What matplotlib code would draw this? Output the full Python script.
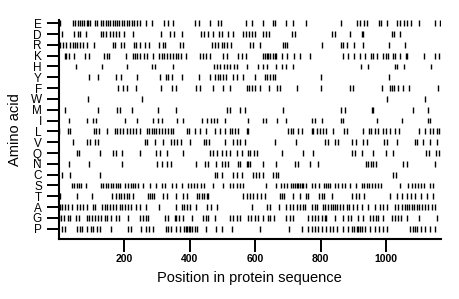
import numpy as np
import matplotlib
matplotlib.use("Agg")
import matplotlib.pyplot as plt

plt.rcParams['font.family'] = ['Liberation Sans', 'DejaVu Sans']

# amino acids, top to bottom as in the chart
amino = ['E', 'D', 'R', 'K', 'H', 'Y', 'F', 'W', 'M', 'I',
         'L', 'V', 'Q', 'N', 'C', 'S', 'T', 'A', 'G', 'P']

pos_E = [6, 44, 51, 58, 65, 71, 78, 86, 91, 96, 112, 117, 129, 136, 144, 151, 158, 165, 172, 179,
         186, 193, 201, 208, 215, 223, 231, 239, 248, 266, 286, 323, 335, 349, 416, 429, 461, 488,
         496, 571, 591, 625, 656, 662, 693, 717, 757, 861, 910, 919, 933, 942, 978, 986, 1002,
         1034, 1042, 1056, 1063, 1075, 1101, 1149, 1165]
pos_D = [12, 47, 58, 65, 83, 129, 136, 145, 157, 165, 177, 185, 200, 228, 313, 340, 352, 376,
         436, 444, 456, 472, 490, 500, 518, 533, 564, 572, 582, 592, 600, 625, 633, 643, 713, 723,
         834, 843, 890, 925, 929, 1017, 1023, 1044]
pos_R = [5, 14, 24, 35, 43, 50, 57, 65, 75, 88, 109, 165, 172, 190, 200, 230, 238, 250, 264, 277,
         307, 320, 326, 371, 379, 468, 477, 488, 498, 505, 515, 526, 585, 595, 615, 686, 692, 698,
         805, 861, 869, 880, 902, 930, 1010, 1058]
pos_K = [19, 24, 31, 47, 82, 92, 140, 147, 153, 206, 228, 234, 240, 248, 261, 269, 289, 307, 316,
         323, 330, 340, 348, 358, 365, 374, 389, 432, 440, 449, 464, 503, 513, 547, 559, 572, 623,
         630, 635, 641, 647, 654, 660, 664, 681, 698, 719, 737, 768, 869, 885, 902, 920, 936, 953,
         961, 971, 992, 999, 1007, 1020, 1027, 1042, 1060, 1065, 1116, 1149, 1163]
pos_H = [53, 134, 208, 284, 295, 348, 475, 483, 493, 505, 513, 523, 536, 546, 574, 610, 625, 635,
         664, 681, 694, 717, 923, 946, 1027, 1032, 1055, 1136]
pos_Y = [94, 122, 175, 190, 240, 309, 327, 333, 345, 376, 429, 464, 477, 486, 493, 501, 511, 533,
         546, 562, 600, 630, 637, 645, 654, 661, 800, 1009]
pos_F = [182, 197, 210, 236, 313, 347, 360, 421, 432, 472, 501, 523, 574, 582, 591, 601, 615, 643,
         666, 676, 729, 801, 890, 900, 988, 1012, 1017, 1024, 1035, 1051, 1069, 1160]
pos_W = [91, 256, 1004, 1119]
pos_M = [21, 122, 180, 187, 223, 303, 358, 513, 523, 554, 569, 686, 861, 874, 956, 961, 1081, 1128]
pos_I = [32, 86, 104, 114, 204, 241, 289, 304, 317, 363, 381, 438, 454, 467, 475, 485, 508, 579,
         625, 633, 666, 694, 773, 783, 803, 861, 869, 973, 1048, 1128, 1134]
pos_L = [2, 30, 35, 108, 113, 124, 147, 172, 180, 189, 197, 208, 218, 228, 238, 248, 271, 276, 284,
         291, 299, 307, 317, 325, 333, 342, 349, 393, 399, 416, 432, 450, 477, 493, 508, 523, 531,
         539, 549, 574, 579, 702, 709, 717, 732, 742, 773, 778, 788, 798, 808, 818, 839, 872, 882,
         930, 949, 954, 966, 976, 992, 1000, 1012, 1027, 1040, 1101, 1119, 1134, 1144, 1154, 1163]
pos_V = [43, 88, 96, 111, 122, 265, 271, 296, 320, 343, 353, 363, 374, 401, 444, 450, 460, 508,
         533, 546, 554, 569, 661, 725, 813, 824, 844, 854, 897, 907, 930, 943, 995, 1002, 1032,
         1088, 1093, 1112, 1134, 1154]
pos_Q = [55, 63, 126, 165, 175, 195, 250, 299, 309, 330, 379, 464, 472, 483, 498, 511, 523, 544,
         559, 579, 586, 597, 605, 681, 745, 778, 895, 905, 925, 961, 999, 1022, 1122, 1131, 1151,
         1163]
pos_N = [33, 92, 194, 301, 315, 330, 342, 421, 447, 457, 480, 500, 508, 518, 547, 554, 574, 579,
         584, 623, 664, 722, 732, 768, 793, 939, 946, 953, 959, 969, 1053, 1063, 1149]
pos_C = [10, 35, 126, 477, 485, 498, 533, 544, 559, 595, 603, 613, 625, 654, 663, 671, 1020, 1030]
pos_S = [40, 47, 55, 63, 70, 83, 129, 136, 145, 152, 160, 167, 174, 182, 187, 203, 213, 220, 228,
         235, 243, 259, 279, 297, 315, 325, 345, 360, 376, 396, 403, 413, 423, 434, 444, 472, 503,
         523, 533, 544, 554, 564, 632, 664, 678, 688, 698, 709, 717, 722, 727, 732, 737, 742, 747,
         757, 773, 783, 796, 810, 816, 823, 829, 844, 854, 864, 874, 890, 908, 925, 933, 941, 949,
         956, 966, 976, 986, 1042, 1068, 1078, 1088, 1098, 1108, 1116, 1134, 1144]
pos_T = [2, 6, 55, 103, 164, 177, 185, 192, 200, 208, 216, 226, 272, 279, 286, 291, 320, 330, 360,
         379, 393, 423, 430, 437, 444, 454, 457, 562, 574, 584, 595, 605, 617, 630, 676, 683, 688,
         717, 737, 755, 762, 796, 803, 810, 834, 895, 908, 918, 933, 1012, 1032, 1048, 1063, 1075,
         1088, 1106, 1124, 1144]
pos_A = [4, 12, 20, 30, 40, 55, 65, 75, 88, 104, 111, 133, 142, 149, 157, 167, 177, 187, 194, 203,
         213, 220, 238, 248, 266, 307, 360, 376, 383, 391, 401, 421, 452, 467, 483, 592, 635, 647,
         674, 694, 706, 717, 727, 737, 747, 752, 773, 783, 790, 808, 813, 824, 831, 837, 844, 851,
         859, 869, 880, 888, 900, 912, 925, 946, 966, 981, 992, 1002, 1027, 1037, 1048, 1058, 1065,
         1071, 1078, 1085, 1093, 1101, 1109, 1119, 1129, 1139, 1149]
pos_G = [2, 9, 17, 30, 35, 53, 63, 86, 94, 101, 111, 121, 131, 142, 149, 160, 177, 185, 213, 248,
         259, 266, 274, 325, 335, 355, 360, 369, 379, 406, 440, 450, 457, 477, 523, 533, 546, 554,
         579, 589, 600, 610, 625, 640, 647, 658, 696, 706, 715, 762, 773, 783, 793, 803, 813, 818,
         844, 869, 885, 892, 915, 930, 951, 959, 969, 976, 990, 1017, 1027, 1037, 1045, 1063, 1101,
         1157]
pos_P = [12, 19, 57, 65, 73, 88, 98, 106, 116, 126, 160, 213, 221, 253, 266, 277, 289, 327, 335,
         343, 360, 371, 383, 389, 393, 397, 401, 406, 416, 423, 450, 480, 498, 531, 615, 704, 742,
         762, 773, 783, 793, 803, 816, 829, 839, 849, 869, 885, 895, 903, 910, 915, 920, 925, 936,
         951, 966, 979, 992, 1004, 1073, 1081, 1088, 1095, 1106, 1119, 1134, 1149]

positions = [pos_E, pos_D, pos_R, pos_K, pos_H, pos_Y, pos_F, pos_W, pos_M, pos_I,
             pos_L, pos_V, pos_Q, pos_N, pos_C, pos_S, pos_T, pos_A, pos_G, pos_P]

x_ticks = [200, 400, 600, 800, 1000]
seq_len = 1167

fig = plt.figure(figsize=(4.6, 2.99), dpi=100)
ax = fig.add_axes([0.1272, 0.2017, 0.831, 0.7314])

n = len(amino)
for i, p in enumerate(positions):
    y = n - 1 - i
    ax.vlines(p, y - 0.27, y + 0.27, color='black', linewidth=1.0)

ax.set_xlim(0, seq_len)
ax.set_ylim(-0.925, n - 1 + 0.3)
ax.set_yticks(range(n))
ax.set_yticklabels(amino[::-1], fontsize=8.5, fontweight='medium')
ax.set_xticks(x_ticks)
ax.set_xticklabels([str(t) for t in x_ticks], fontsize=7.5, fontweight='bold')

ax.spines['top'].set_visible(False)
ax.spines['right'].set_visible(False)
ax.spines['left'].set_linewidth(1.5)
ax.spines['bottom'].set_linewidth(1.5)
ax.tick_params(axis='y', length=9, width=1.4, pad=3)
ax.tick_params(axis='x', length=9, width=1.4, pad=2)

ax.set_xlabel('Position in protein sequence', fontsize=10.5, labelpad=5)
ax.set_ylabel('Amino acid', fontsize=10.5, labelpad=6)

fig.savefig('out.png', dpi=100)
